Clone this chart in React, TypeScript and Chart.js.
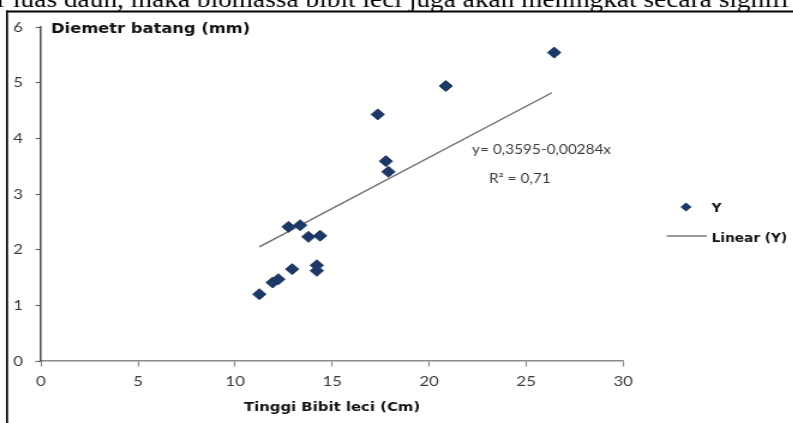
import { useEffect, useRef } from "react";
import { Chart, registerables } from "chart.js";

Chart.register(...registerables);

// ---- data ----
const tinggi = [11.25, 11.94, 12.23, 12.94, 14.21, 14.21, 12.75, 13.35, 13.78, 14.38, 17.35, 17.77, 17.9, 20.86, 26.44];
const diameter = [1.2, 1.41, 1.47, 1.65, 1.72, 1.62, 2.41, 2.44, 2.23, 2.25, 4.43, 3.59, 3.4, 4.94, 5.54];
const trendX = [11.25, 26.32];
const trendY = [2.05, 4.82];
const xTicks = [0, 5, 10, 15, 20, 25, 30];
const yTicks = [0, 1, 2, 3, 4, 5, 6];

const topText = "r luas daun, maka biomassa bibit leci juga akan meningkat secara signifi";
const yTitle = "Diemetr batang (mm)";
const xTitle = "Tinggi Bibit leci (Cm)";
const eqText = "y= 0,3595-0,00284x";
const r2Text = "R\u00B2 = 0,71";
const legendPoints = "Y";
const legendLine = "Linear (Y)";

// horizontal stretch of the scanned picture
const S = 1.2;
const PAGE_W = 793;
const PAGE_H = 423;
const W = PAGE_W / S;
const H = PAGE_H;

const NAVY = "#1b3866";
const BOLD = '"DejaVu Sans"';

export default function App() {
  const ref = useRef<HTMLCanvasElement>(null);

  useEffect(() => {
    const canvas = ref.current;
    if (!canvas) return;

    const overlay = {
      id: "overlay",
      afterDraw(chart: any) {
        const ctx = chart.ctx as CanvasRenderingContext2D;
        ctx.save();
        // frame
        ctx.fillStyle = "#000";
        ctx.fillRect(6 / S, 10.5, W, 2);
        ctx.fillRect(6 / S, 10.5, 2 / S, H);
        // top paragraph text (cut)
        ctx.textBaseline = "alphabetic";
        ctx.textAlign = "left";
        ctx.font = '22.8px "Liberation Serif"';
        ctx.fillText(topText, -2.5, 7);
        // y title
        ctx.fillStyle = "#111";
        ctx.font = `bold 13.6px ${BOLD}`;
        ctx.fillText(yTitle, 51 / S, 33);
        // x title
        ctx.font = `bold 12.4px ${BOLD}`;
        ctx.textAlign = "center";
        ctx.fillText(xTitle, 332 / S, 411);
        // equation
        ctx.textAlign = "left";
        ctx.fillStyle = "#3a3a3a";
        ctx.font = "12.8px Lato";
        ctx.fillText(eqText, 472 / S, 153.5);
        ctx.fillText(r2Text, 489 / S, 183.3);
        // legend
        const mx = 686 / S;
        const my = 207;
        const r = 4.6;
        ctx.fillStyle = NAVY;
        ctx.beginPath();
        ctx.moveTo(mx - r, my);
        ctx.lineTo(mx, my - r);
        ctx.lineTo(mx + r, my);
        ctx.lineTo(mx, my + r);
        ctx.closePath();
        ctx.fill();
        ctx.strokeStyle = "#777";
        ctx.lineWidth = 1.3;
        ctx.beginPath();
        ctx.moveTo(666.7 / S, 236);
        ctx.lineTo(706.7 / S, 236);
        ctx.stroke();
        ctx.fillStyle = "#111";
        ctx.font = `bold 11.4px ${BOLD}`;
        ctx.fillText(legendPoints, 711.7 / S, 211.7);
        ctx.fillText(legendLine, 711.7 / S, 241.5);
        ctx.restore();
      },
    };

    const chart = new Chart(canvas, {
      type: "scatter",
      data: {
        datasets: [
          {
            label: legendPoints,
            data: tinggi.map((x, i) => ({ x, y: diameter[i] })),
            pointStyle: "rectRot",
            pointRadius: 5.5,
            backgroundColor: NAVY,
            borderColor: NAVY,
            borderWidth: 1,
            order: 0,
          },
          {
            label: legendLine,
            data: trendX.map((x, i) => ({ x, y: trendY[i] })),
            showLine: true,
            borderColor: "#6a6a6a",
            borderWidth: 1.3,
            pointRadius: 0,
            order: 1,
          },
        ],
      },
      options: {
        responsive: false,
        animation: false,
        devicePixelRatio: 1,
        layout: { padding: { left: 0, top: 27, right: W - 623 / S, bottom: 0 } },
        plugins: { legend: { display: false }, tooltip: { enabled: false } },
        scales: {
          x: {
            type: "linear",
            min: 0,
            max: 30,
            afterBuildTicks: (s: any) => {
              s.ticks = xTicks.map((v) => ({ value: v }));
            },
            afterFit: (s: any) => {
              s.height = H - 361;
            },
            grid: { drawOnChartArea: false, drawTicks: true, tickLength: 5.5, tickColor: "#8a8a8a", tickWidth: 1.2 },
            border: { color: "#8a8a8a", width: 1.5 },
            ticks: { padding: 7, color: "#3a3a3a", font: { family: "Lato", size: 14 } },
          },
          y: {
            type: "linear",
            min: 0,
            max: 6,
            afterBuildTicks: (s: any) => {
              s.ticks = yTicks.map((v) => ({ value: v }));
            },
            afterFit: (s: any) => {
              s.width = 41 / S;
            },
            grid: { drawOnChartArea: false, drawTicks: true, tickLength: 4.5, tickColor: "#666", tickWidth: 1.2 },
            border: { color: "#555", width: 1.6 },
            ticks: { padding: 10.5, color: "#3a3a3a", font: { family: "Lato", size: 14 } },
          },
        },
      },
      plugins: [overlay],
    } as any);

    return () => chart.destroy();
  }, []);

  return (
    <div
      style={{
        position: "fixed",
        left: 0,
        top: 0,
        width: PAGE_W,
        height: PAGE_H,
        overflow: "hidden",
        background: "#fff",
      }}
    >
      <div
        style={{
          position: "absolute",
          left: 0,
          top: 0,
          width: W,
          height: H,
          transform: `scaleX(${S})`,
          transformOrigin: "0 0",
        }}
      >
        <canvas ref={ref} width={Math.round(W)} height={H} style={{ display: "block", width: Math.round(W), height: H }} />
      </div>
    </div>
  );
}
